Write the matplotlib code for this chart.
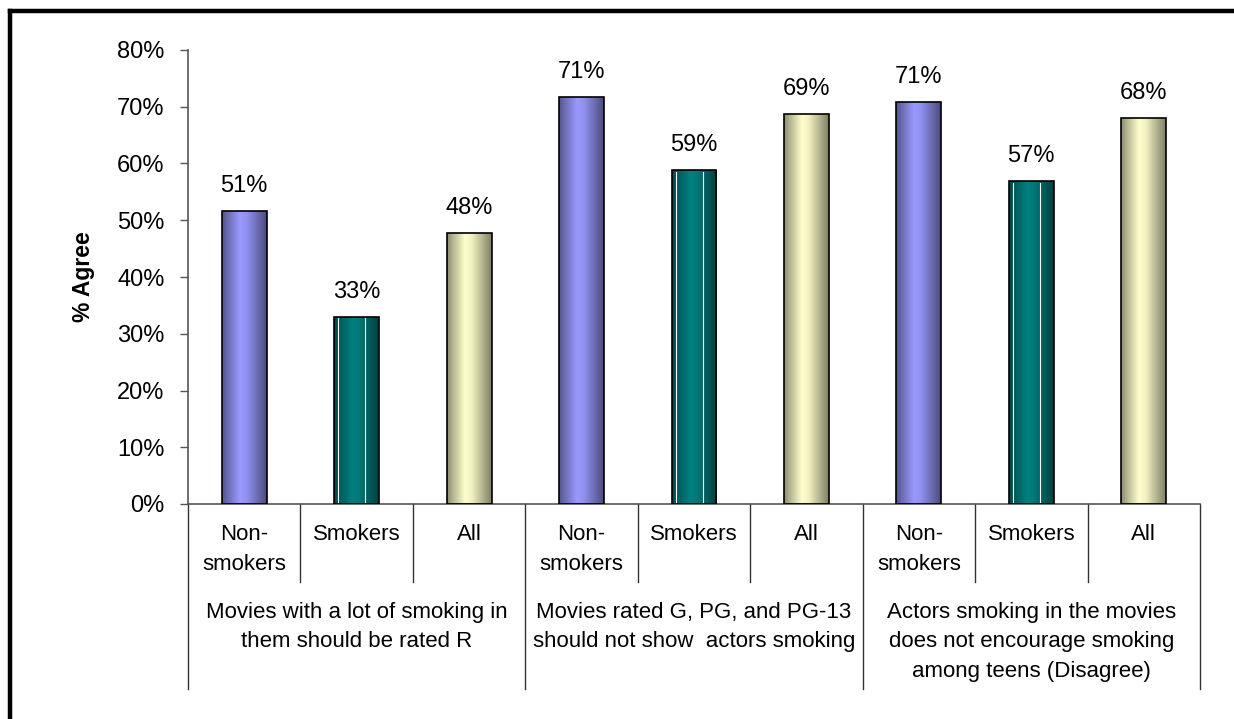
import matplotlib
matplotlib.use('Agg')
import matplotlib.pyplot as plt
import numpy as np
from matplotlib.colors import to_rgb
from matplotlib.lines import Line2D

plt.rcParams['font.family'] = ['Liberation Sans', 'DejaVu Sans']

# data
groups = ['Non-\nsmokers', 'Smokers', 'All']
questions = [
    'Movies with a lot of smoking in\nthem should be rated R',
    'Movies rated G, PG, and PG-13\nshould not show  actors smoking',
    'Actors smoking in the movies\ndoes not encourage smoking\namong teens (Disagree)',
]
values = [51.6, 33.0, 47.7, 71.7, 58.8, 68.8, 70.9, 56.9, 68.1]
value_labels = ['51%', '33%', '48%', '71%', '59%', '69%', '71%', '57%', '68%']
yticks = [0, 10, 20, 30, 40, 50, 60, 70, 80]
group_colors = ['#9999FF', '#008080', '#FFFFCC']

W, H = 1234, 719
fig = plt.figure(figsize=(W / 100, H / 100), dpi=100)
ax = fig.add_axes([188 / W, (H - 504) / H, (1200 - 188) / W, (504 - 50) / H])

x = np.arange(len(values))
colors = [group_colors[i % 3] for i in range(len(values))]
bw = 0.4
bars = ax.bar(x, values, width=bw, color=colors, edgecolor='black', linewidth=1.2, zorder=3)

# cylinder-like shading
t = np.linspace(0, 1, 64)
shade = np.interp(t, [0, 0.12, 0.4, 0.55, 0.8, 1.0], [0.55, 0.7, 1.0, 0.95, 0.7, 0.5])
for b, c in zip(bars, colors):
    rgb = np.array(to_rgb(c))
    img = (shade[:, None] * rgb[None, :])[None, :, :]
    im = ax.imshow(img, extent=[b.get_x(), b.get_x() + b.get_width(), 0, b.get_height()],
                   aspect='auto', zorder=2.5, interpolation='bilinear')
    im.set_clip_path(b)
    b.set_facecolor('none')
    if c == '#008080':
        for f in (0.09, 0.69):
            ax.plot([b.get_x() + f * bw] * 2, [0.3, b.get_height() - 0.3], color='white', lw=0.8, zorder=3.5)

for xi, v, lab in zip(x, values, value_labels):
    ax.annotate(lab, (xi, v), xytext=(0, 10), textcoords='offset points',
                ha='center', va='bottom', fontsize=17)

ax.set_xlim(-0.5, len(values) - 0.5)
ax.set_ylim(0, 80)
ax.set_yticks(yticks)
ax.set_yticklabels(['%d%%' % v for v in yticks], fontsize=17)
ax.tick_params(axis='y', length=6, width=1, color='#555555', pad=11)
ax.set_xticks([])
ax.set_ylabel('% Agree', fontsize=16.5, fontweight='bold')
ax.yaxis.set_label_coords(-0.092, 0.5)
for s in ['top', 'right']:
    ax.spines[s].set_visible(False)
for s in ['left', 'bottom']:
    ax.spines[s].set_color('#555555')
    ax.spines[s].set_linewidth(1.2)

# category axis: sub labels and separators
trans = ax.get_xaxis_transform()
for i in range(len(values)):
    ax.text(x[i], -0.045, groups[i % 3], transform=trans, ha='center', va='top',
            fontsize=16, linespacing=1.55)
for i in range(len(values) + 1):
    xs = i - 0.5
    y_end = -0.408 if i % 3 == 0 else -0.172
    ax.plot([xs, xs], [0, y_end], transform=trans, color='#333333', lw=1, clip_on=False)
for j, q in enumerate(questions):
    ax.text(3 * j + 1, -0.215, q, transform=trans, ha='center', va='top',
            fontsize=16, linespacing=1.55)

# frame lines around figure (top and left)
fig.add_artist(Line2D([10 / W, 1], [1 - 11 / H, 1 - 11 / H], color='black', lw=3.2, transform=fig.transFigure))
fig.add_artist(Line2D([10 / W, 10 / W], [0, 1 - 11 / H], color='black', lw=3.2, transform=fig.transFigure))

fig.savefig('out.png', dpi=100)
